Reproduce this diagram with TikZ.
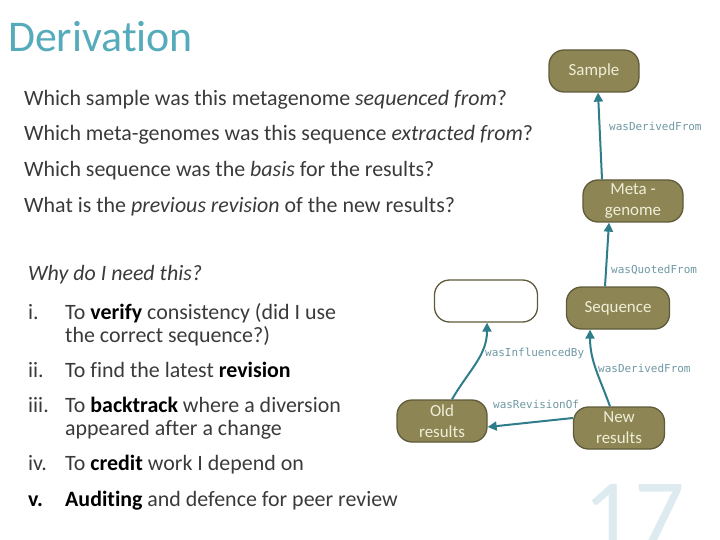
\documentclass[tikz,border=0pt]{standalone}
\usepackage{fontspec}
\setmainfont[Ligatures=NoCommon]{Carlito}
\newfontfamily\codefont{DejaVu Sans Mono}
\usetikzlibrary{arrows.meta}

\definecolor{titleblue}{HTML}{55ABBB}
\definecolor{olive}{HTML}{8D8654}
\definecolor{oliveline}{HTML}{5F5A3A}
\definecolor{nodetext}{HTML}{F0EED8}
\definecolor{linkteal}{HTML}{2F7C8A}
\definecolor{labelgray}{HTML}{6E98A3}
\definecolor{bodygray}{HTML}{3A3A3A}
\definecolor{pagenum}{HTML}{DDEBF0}

\tikzset{
    body/.style={anchor=base west, inner sep=0pt, text=bodygray,
        font=\fontsize{22}{23}\selectfont},
    prov/.style={draw=oliveline, line width=1.3pt, fill=olive, rounded corners=15bp,
        minimum height=42bp, text=nodetext, align=center,
        font=\fontsize{17}{21}\selectfont},
    link/.style={draw=linkteal, line width=2bp, -{Triangle[width=9bp,length=9bp]}},
    rel/.style={anchor=west, inner sep=0pt, text=labelgray,
        font=\codefont\fontsize{11}{12}\selectfont},
}

\begin{document}
\begin{tikzpicture}[x=1bp, y=-1bp]
    \useasboundingbox (0,0) rectangle (720,540);

    % slide number in the background
    \node[anchor=base, inner sep=0pt, text=pagenum, font=\fontsize{100}{100}\selectfont]
        (pagenum) at (634,548) {17};

    \node[anchor=base west, inner sep=0pt, text=titleblue, font=\fontsize{44}{50}\selectfont]
        (title) at (8,52) {Derivation};

    % questions
    \foreach \y/\q in {106/{Which sample was this metagenome \textit{sequenced from}?},
                       141/{Which meta-genomes was this sequence \textit{extracted from}?},
                       177/{Which sequence was the \textit{basis} for the results?},
                       213/{What is the \textit{previous revision} of the new results?}}{
            \node[body] (q\y) at (24,\y) {\q};
        }

    \node[body] (why) at (28,281) {\textit{Why do I need this?}};

    % reasons
    \node[body] (n1) at (28,319) {i.};
    \node[body] (r1a) at (65,319) {To \textbf{\color{black}verify} consistency (did I use};
    \node[body] (r1b) at (65,342) {the correct sequence?)};
    \node[body] (n2) at (28,377) {ii.};
    \node[body] (r2) at (65,377) {To find the latest \textbf{\color{black}revision}};
    \node[body] (n3) at (28,412) {iii.};
    \node[body] (r3a) at (65,412) {To \textbf{\color{black}backtrack} where a diversion};
    \node[body] (r3b) at (65,435) {appeared after a change};
    \node[body] (n4) at (28,470) {iv.};
    \node[body] (r4) at (65,470) {To \textbf{\color{black}credit} work I depend on};
    \node[body] (n5) at (28,506) {\textbf{\color{black}v.}};
    \node[body] (r5) at (65,506) {\textbf{\color{black}Auditing} and defence for peer review};

    % provenance graph
    \node[prov, minimum width=90bp] (sample) at (594,71) {Sample};
    \node[prov, minimum width=100bp] (meta) at (633,201) {Meta -\\genome};
    \node[prov, minimum width=103bp, fill=white] (unknown) at (486,301) {};
    \node[prov, minimum width=103bp] (seq) at (618,308) {Sequence};
    \node[prov, minimum width=90bp] (old) at (442,421) {Old\\results};
    \node[prov, minimum width=91bp] (new) at (619,428) {New\\results};

    \draw[link] ([xshift=-31bp]meta.north) -- ([xshift=4bp]sample.south);
    \draw[link] ([xshift=-13bp]seq.north) -- ([xshift=-24bp]meta.south);
    \draw[link] ([xshift=-9bp]new.north) to[out=110, in=-90] ([xshift=-28bp]seq.south);
    \draw[link] ([xshift=10bp]old.north) to[out=60, in=-90] ([xshift=1bp]unknown.south);
    \draw[link] ([yshift=10bp]new.west) -- ([yshift=-6bp]old.east);

    \node[rel] (l1) at (609,126) {wasDerivedFrom};
    \node[rel] (l2) at (611,270) {wasQuotedFrom};
    \node[rel] (l3) at (598,368) {wasDerivedFrom};
    \node[rel] (l4) at (485,353) {wasInfluencedBy};
    \node[rel] (l5) at (493,404) {wasRevisionOf};
\end{tikzpicture}
\end{document}
